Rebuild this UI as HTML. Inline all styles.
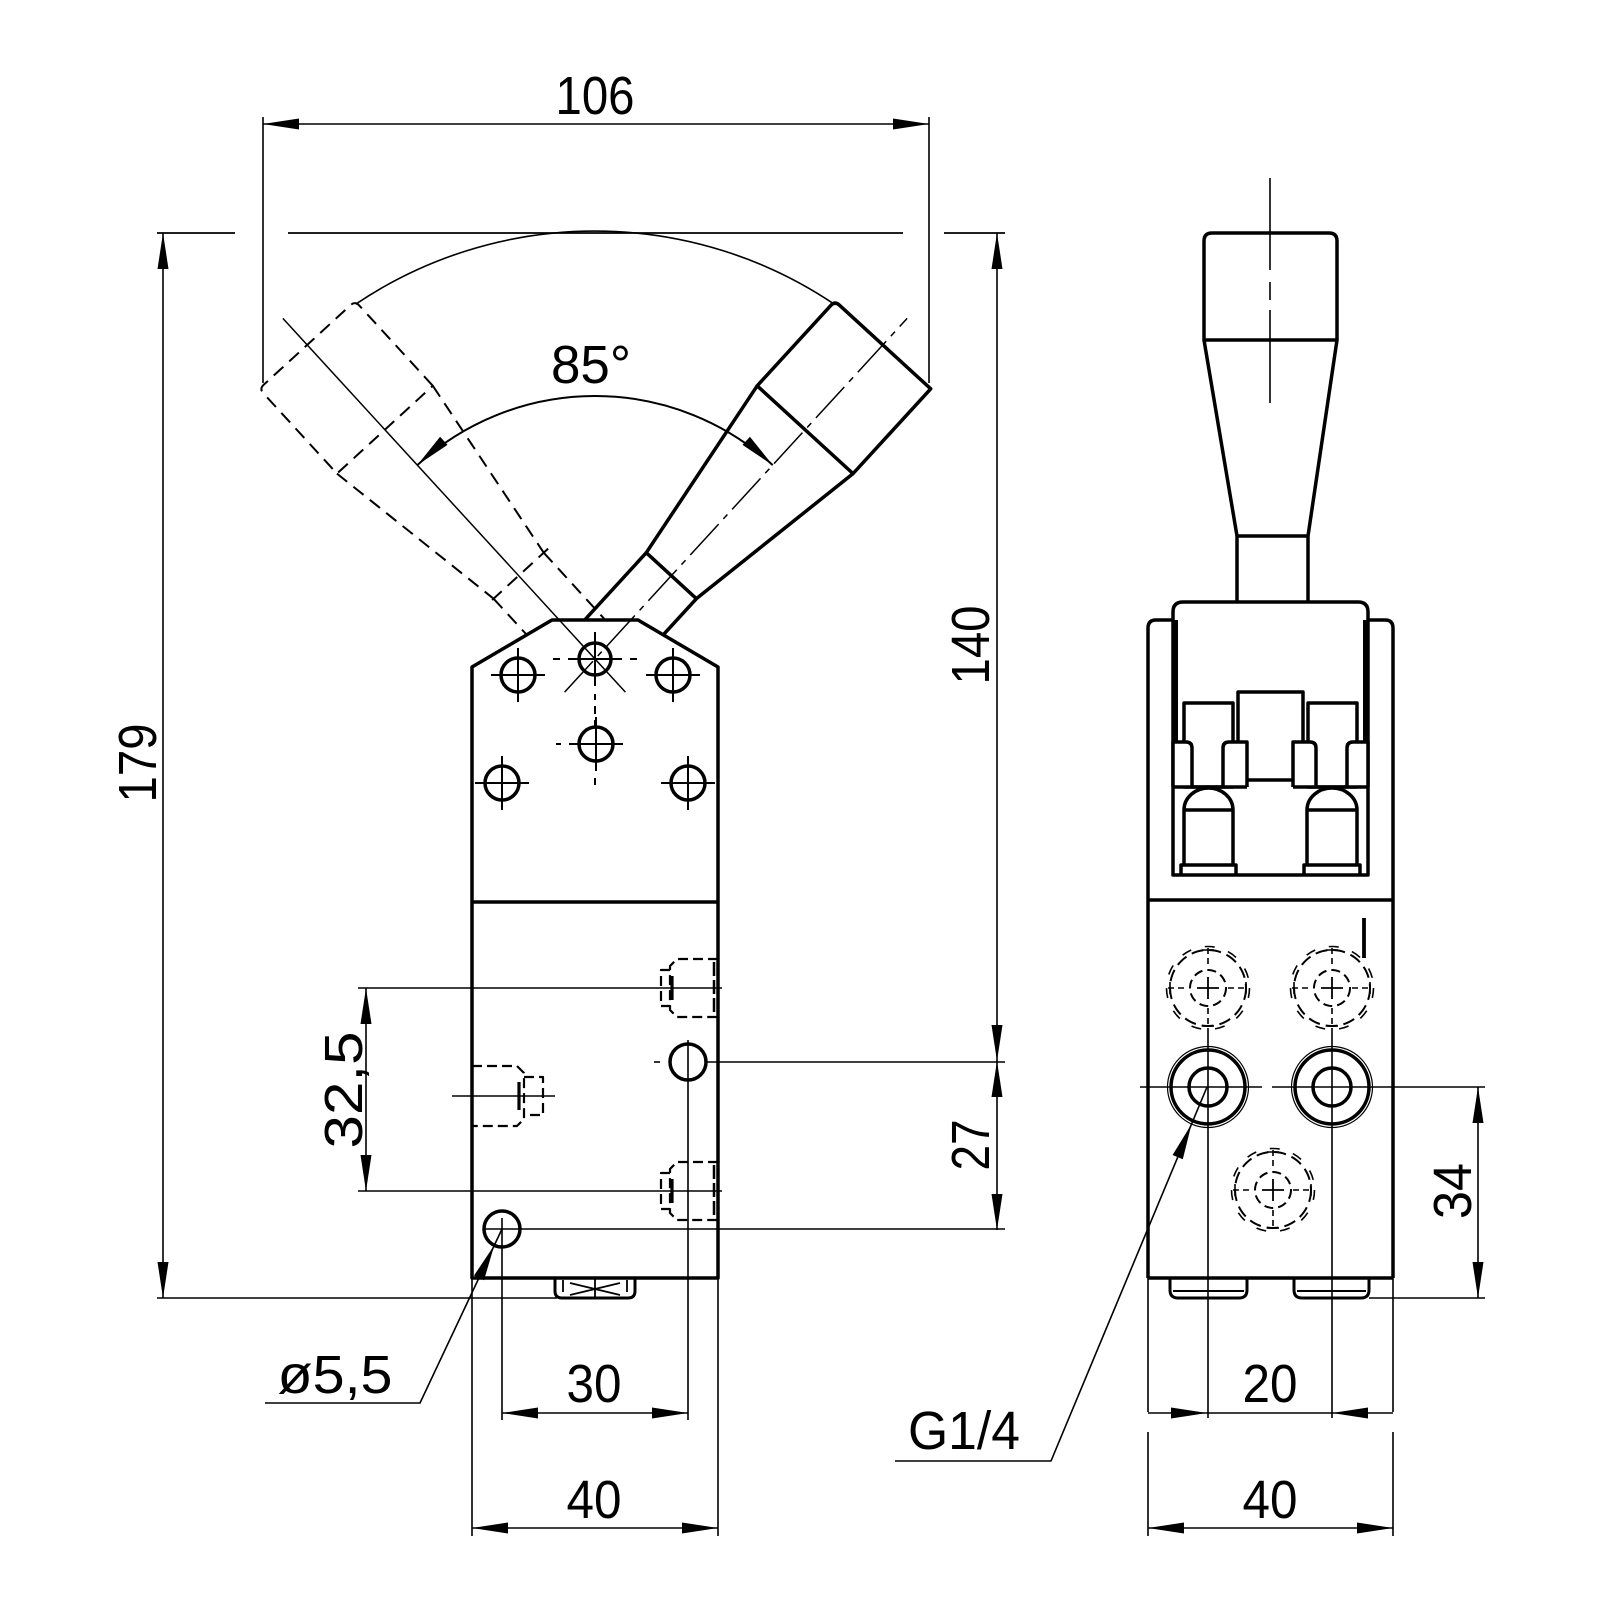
<!DOCTYPE html>
<html><head><meta charset="utf-8">
<style>
html,body{margin:0;padding:0;background:#fff;}
svg{display:block;}
text{font-family:"Liberation Sans",sans-serif;font-size:54px;fill:#000;}
</style></head>
<body>
<svg width="1600" height="1600" viewBox="0 0 1600 1600" xmlns="http://www.w3.org/2000/svg">
<rect width="1600" height="1600" fill="#fff"/>
<defs>
<g id="dh" fill="none" stroke="#000">
 <circle r="38" stroke-dasharray="12 6" stroke-width="2"/>
 <circle r="41.5" stroke-dasharray="10 14" stroke-width="1.6"/>
 <circle r="18" stroke-dasharray="9 5" stroke-width="2"/>
 <path d="M-11,0H11M0,-11V11" stroke-width="1.8"/>
 <path d="M-40,0H-20M20,0H40M0,-40V-20M0,20V40" stroke-width="1.6" stroke-dasharray="6 4"/>
 <path d="M-38,-6V6M38,-6V6M-6,-38H6M-6,38H6" stroke-width="1.6"/>
</g>
<g id="sh" fill="none" stroke="#000">
 <circle r="37" stroke-width="3.5"/>
 <circle r="40.5" stroke-width="1.2"/>
 <circle r="19" stroke-width="3.5"/>
</g>
<g id="lh" fill="none" stroke="#000">
 <circle r="17" stroke-width="3.5"/>
 <path d="M-27,0H27M0,-27V27" stroke-width="2"/>
</g>
</defs>

<!-- ================= LEFT VIEW ================= -->
<g fill="none" stroke="#000" stroke-linejoin="round">
 <!-- dimension 106 -->
 <path d="M263,117V383M929,117V383M263,124H929" stroke-width="1.6"/>
 <!-- top horizontal line -->
 <path d="M157,233H235M288,233H903M944,233H1005" stroke-width="1.8"/>
 <!-- big arc -->
 <path d="M355.7,304.2A428,428 0 0 1 834.3,304.2" stroke-width="1.6"/>
 <!-- 85 deg arc -->
 <path d="M417.3,465.1A263,263 0 0 1 772.7,465.1" stroke-width="2"/>

 <!-- left lever (phantom, dashed) -->
 <g transform="translate(1190,0) scale(-1,1) translate(595,659) rotate(42.5)" stroke-width="2" stroke-dasharray="13 8">
  <path d="M-65,-311V-420Q-65,-426 -59,-426H59Q65,-426 65,-420V-311Z"/>
  <path d="M-65,-311L-34,-113M65,-311L34,-113M-40,-113H40"/>
  <path d="M-34,-113V-21.7M34,-113V-63.9"/>
 </g>
 <!-- left lever centerline -->
 <g transform="translate(1190,0) scale(-1,1) translate(595,659) rotate(42.5)" stroke-width="1.5">
  <path d="M0,45V-462"/>
 </g>

 <!-- right lever (solid) -->
 <g transform="translate(595,659) rotate(42.5)" stroke-width="3.5">
  <path d="M-65,-311V-420Q-65,-426 -59,-426H65V-311Z" fill="#fff"/>
  <path d="M-65,-311L-34,-113M65,-311L34,-113M-34,-113H34"/>
  <path d="M-34,-113V-21.7M34,-113V-63.9"/>
 </g>
 <g transform="translate(595,659) rotate(42.5)" stroke-width="1.5">
  <path d="M0,45V-462" stroke-dasharray="42 7 6 7"/>
 </g>

 <!-- body -->
 <path d="M472,1278V667L552,620H638L718,667V1278Z" stroke-width="3.5"/>
 <path d="M472,902H718" stroke-width="3.5"/>

 <!-- pivot & holes -->
 <circle cx="595" cy="659" r="16" stroke-width="3.5"/>
 <path d="M568,659H622M595,632V686" stroke-width="2"/>
 <path d="M553,659H560M630,659H637" stroke-width="2"/>
 <path d="M595,694V700M595,706V714M595,720V726M595,778V785" stroke-width="2"/>
 <path d="M556,744H561" stroke-width="2"/>
 <use href="#lh" x="518" y="675"/>
 <use href="#lh" x="673" y="675"/>
 <use href="#lh" x="596" y="744"/>
 <use href="#lh" x="502" y="783"/>
 <use href="#lh" x="688" y="783"/>

 <!-- dashed ports -->
 <g stroke-width="2.2" stroke-dasharray="10 5">
  <path d="M718,959H677L670,966V1010L677,1017H718"/>
  <path d="M670,970H661V1006H670"/>
  <path d="M718,1162H677L670,1169V1213L677,1220H718"/>
  <path d="M670,1173H661V1209H670"/>
  <path d="M472,1066H517L524,1073V1119L517,1126H472"/>
  <path d="M524,1077H543V1115H524"/>
 </g>
 <path d="M672,976V1000M672,1179V1203M519,1082V1110" stroke-width="3.2"/>
 <path d="M714,962V1014M714,1165V1217" stroke-width="2.5" stroke-dasharray="14 4"/>
 <path d="M452,1096H555" stroke-width="1.6"/>
 <path d="M654,1062H660" stroke-width="1.6"/>

 <!-- small holes -->
 <circle cx="688" cy="1062" r="18" stroke-width="3.5"/>
 <circle cx="502" cy="1229" r="18" stroke-width="3.5"/>
 <path d="M688,1040V1420M502,1218V1420M484,1229H520" stroke-width="1.6"/>

 <!-- bottom nut -->
 <path d="M555,1278V1291Q555,1298 562,1298H628Q635,1298 635,1291V1278" stroke-width="3"/>
 <path d="M563,1280V1292M627,1280V1292M570,1283L620,1295M570,1295L620,1283M595,1278V1298" stroke-width="1.8"/>

 <!-- extension/dim lines -->
 <path d="M163,233V1298M157,1298H557" stroke-width="1.6"/>
 <path d="M358,988H722M358,1191H722M366,988V1191" stroke-width="1.6"/>
 <path d="M706,1062H1005M520,1229H1005M997,233V1230" stroke-width="1.6"/>
 <path d="M502,1413H688" stroke-width="1.6"/>
 <path d="M472,1278V1536M718,1278V1536M472,1528H718" stroke-width="1.6"/>
 <!-- leader dia 5.5 -->
 <path d="M502,1229L420,1403H265" stroke-width="1.6"/>
</g>

<!-- arrowheads -->
<g fill="#000" stroke="none">
 <polygon points="263,124 299,118.5 299,129.5"/>
 <polygon points="929,124 893,118.5 893,129.5"/>
 <polygon points="163,233 157.5,269 168.5,269"/>
 <polygon points="163,1298 157.5,1262 168.5,1262"/>
 <polygon points="997,233 991.5,269 1002.5,269"/>
 <polygon points="997,1061 991.5,1025 1002.5,1025"/>
 <polygon points="997,1061 991.5,1097 1002.5,1097"/>
 <polygon points="997,1230 991.5,1194 1002.5,1194"/>
 <polygon points="366,988 360.5,1024 371.5,1024"/>
 <polygon points="366,1191 360.5,1155 371.5,1155"/>
 <polygon points="502,1413 538,1407.5 538,1418.5"/>
 <polygon points="688,1413 652,1407.5 652,1418.5"/>
 <polygon points="472,1528 508,1522.5 508,1533.5"/>
 <polygon points="718,1528 682,1522.5 682,1533.5"/>
 <polygon points="772.7,465.1 742.5,444.9 749.9,436.7"/>
 <polygon points="417.3,465.1 447.5,444.9 440.1,436.7"/>
 <polygon points="494.3,1245.3 484,1280.2 474,1275.5"/>
 <!-- right view arrows -->
 <polygon points="1207,1413 1171,1407.5 1171,1418.5"/>
 <polygon points="1332,1413 1368,1407.5 1368,1418.5"/>
 <polygon points="1148,1528 1184,1522.5 1184,1533.5"/>
 <polygon points="1393,1528 1357,1522.5 1357,1533.5"/>
 <polygon points="1478,1087 1472.5,1123 1483.5,1123"/>
 <polygon points="1478,1298 1472.5,1262 1483.5,1262"/>
 <polygon points="1191.6,1123.9 1182.8,1159.2 1172.6,1155"/>
</g>

<!-- ================= RIGHT VIEW ================= -->
<g fill="none" stroke="#000" stroke-linejoin="round">
 <!-- centerline -->
 <path d="M1270,178V270M1270,282V300M1270,310V403" stroke-width="1.6"/>
 <!-- grip -->
 <path d="M1204,340V241Q1204,233 1212,233H1329Q1337,233 1337,241V340Z" stroke-width="3.5"/>
 <path d="M1204,340L1237,536H1308L1337,340M1237,536V602M1308,536V602" stroke-width="3.5"/>
 <!-- brackets -->
 <path d="M1148,1278V628Q1148,620 1156,620H1173" stroke-width="3.5"/>
 <path d="M1393,1278V628Q1393,620 1385,620H1368" stroke-width="3.5"/>
 <!-- cap -->
 <path d="M1173,875V612Q1173,602 1183,602H1358Q1368,602 1368,612V875Z" stroke-width="3.5" fill="#fff"/>
 <path d="M1175,620V745M1366,620V745" stroke-width="6"/>
 <!-- inner blocks -->
 <rect x="1238" y="692" width="65" height="88" stroke-width="3.5" fill="#fff"/>
 <rect x="1184" y="703" width="49" height="84" stroke-width="3.5" fill="#fff"/>
 <rect x="1308" y="703" width="49" height="84" stroke-width="3.5" fill="#fff"/>
 <path d="M1173,787V742H1186Q1192,742 1192,748V787" stroke-width="3.5" fill="#fff"/>
 <path d="M1247,787V742H1229Q1223,742 1223,748V787" stroke-width="3.5" fill="#fff"/>
 <path d="M1293,787V742H1310Q1316,742 1316,748V787" stroke-width="3.5" fill="#fff"/>
 <path d="M1368,787V742H1353Q1347,742 1347,748V787" stroke-width="3.5" fill="#fff"/>
 <path d="M1173,787H1247M1293,787H1368" stroke-width="3.5"/>
 <!-- plungers -->
 <path d="M1184,865V810A24.5,22 0 0 1 1233,810V865M1184,810H1233" stroke-width="3.5"/>
 <path d="M1307,865V810A25,22 0 0 1 1357,810V865M1307,810H1357" stroke-width="3.5"/>
 <path d="M1181,875V865H1236V875M1304,875V865H1360V875" stroke-width="3.5"/>
 <!-- body -->
 <path d="M1148,900H1393M1148,1278H1393" stroke-width="3.5"/>
 <path d="M1364,918V958" stroke-width="3.8"/>
 <!-- holes -->
 <use href="#dh" x="1208" y="988"/>
 <use href="#dh" x="1332" y="988"/>
 <use href="#dh" x="1273" y="1190"/>
 <use href="#sh" x="1208" y="1087"/>
 <use href="#sh" x="1332" y="1087"/>
 <path d="M1140,1087H1262M1272,1087H1485" stroke-width="1.6"/>
 <path d="M1208,1028V1418M1332,1028V1418" stroke-width="1.6"/>
 <!-- bottom fittings -->
 <path d="M1170,1278V1290Q1170,1298 1178,1298H1239Q1247,1298 1247,1290V1278" stroke-width="3"/>
 <path d="M1294,1278V1290Q1294,1298 1302,1298H1361Q1369,1298 1369,1290V1278" stroke-width="3"/>
 <path d="M1173,1291H1244M1297,1291H1366" stroke-width="2"/>
 <!-- dims -->
 <path d="M1148,1278V1412M1393,1278V1412M1148,1432V1536M1393,1432V1536" stroke-width="1.6"/>
 <path d="M1148,1413H1393M1148,1528H1393" stroke-width="1.6"/>
 <path d="M1369,1298H1485M1478,1087V1298" stroke-width="1.6"/>
 <path d="M1207,1087L1051,1461H895" stroke-width="1.6"/>
</g>

<!-- ================= TEXT ================= -->
<text x="595" y="114" text-anchor="middle" textLength="79" lengthAdjust="spacingAndGlyphs">106</text>
<text x="591" y="383" text-anchor="middle" textLength="80" lengthAdjust="spacingAndGlyphs">85°</text>
<text transform="translate(156,763) rotate(-90)" text-anchor="middle" textLength="79" lengthAdjust="spacingAndGlyphs">179</text>
<text transform="translate(989,645) rotate(-90)" text-anchor="middle" textLength="79" lengthAdjust="spacingAndGlyphs">140</text>
<text transform="translate(989,1145) rotate(-90)" text-anchor="middle" textLength="51" lengthAdjust="spacingAndGlyphs">27</text>
<text transform="translate(362,1090) rotate(-90)" text-anchor="middle" textLength="117" lengthAdjust="spacingAndGlyphs">32,5</text>
<text transform="translate(1471,1191) rotate(-90)" text-anchor="middle" textLength="56" lengthAdjust="spacingAndGlyphs">34</text>
<text x="335" y="1393" text-anchor="middle" textLength="115" lengthAdjust="spacingAndGlyphs">ø5,5</text>
<text x="594" y="1402" text-anchor="middle" textLength="55" lengthAdjust="spacingAndGlyphs">30</text>
<text x="594" y="1518" text-anchor="middle" textLength="55" lengthAdjust="spacingAndGlyphs">40</text>
<text x="964" y="1449" text-anchor="middle" textLength="112" lengthAdjust="spacingAndGlyphs">G1/4</text>
<text x="1270" y="1402" text-anchor="middle" textLength="55" lengthAdjust="spacingAndGlyphs">20</text>
<text x="1270" y="1518" text-anchor="middle" textLength="55" lengthAdjust="spacingAndGlyphs">40</text>
</svg>
</body></html>
